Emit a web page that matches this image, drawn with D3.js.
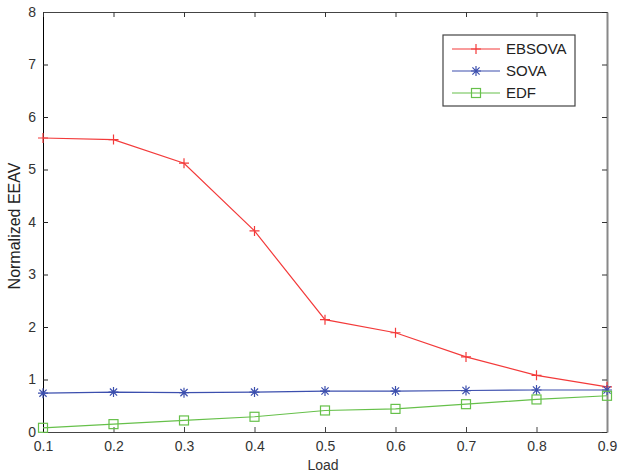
<!DOCTYPE html>
<html>
<head>
<meta charset="utf-8">
<script src="https://cdn.jsdelivr.net/npm/d3@7"></script>
<style>
  body { margin: 0; background: #fff; }
  text { font-family: "Liberation Sans", Arial, sans-serif; }
</style>
</head>
<body>
<svg id="chart" width="619" height="475"></svg>
<script>
// data
var loads = [0.1, 0.2, 0.3, 0.4, 0.5, 0.6, 0.7, 0.8, 0.9];
var ebsova = [5.60, 5.57, 5.12, 3.83, 2.14, 1.89, 1.43, 1.08, 0.86];
var sova = [0.74, 0.76, 0.75, 0.76, 0.78, 0.78, 0.79, 0.80, 0.80];
var edf = [0.08, 0.15, 0.22, 0.29, 0.41, 0.44, 0.53, 0.62, 0.69];
var xTicks = [0.1, 0.2, 0.3, 0.4, 0.5, 0.6, 0.7, 0.8, 0.9];
var yTicks = [0, 1, 2, 3, 4, 5, 6, 7, 8];

var series = [
    {name: "EBSOVA", values: ebsova, color: "#f33a3a", marker: "plus"},
    {name: "SOVA", values: sova, color: "#3c4fae", marker: "star"},
    {name: "EDF", values: edf, color: "#66c04a", marker: "square"}
];

var svg = d3.select("#chart");
var plotLeft = 43, plotRight = 607, plotTop = 12, plotBottom = 432;

var x = d3.scaleLinear().domain([0.1, 0.9]).range([plotLeft, plotRight]);
var y = d3.scaleLinear().domain([0, 8]).range([plotBottom, plotTop]);

//axes with inward ticks
var tickLen = 5;
svg.append("g")
    .attr("transform", "translate(0," + plotBottom + ")")
    .call(d3.axisBottom(x).tickValues(xTicks).tickSizeInner(-tickLen).tickSizeOuter(0).tickPadding(11).tickFormat(d3.format(".1f")))
    .call(function(g) {
        g.select(".domain").attr("stroke", "#444");
        g.selectAll("line").attr("stroke", "#444");
        g.selectAll("text").attr("font-size", "14px").attr("fill", "#333").attr("dy", "0.6em");
    });

svg.append("g")
    .attr("transform", "translate(" + plotLeft + ",0)")
    .call(d3.axisLeft(y).tickValues(yTicks).tickSizeInner(-tickLen).tickSizeOuter(0).tickPadding(7))
    .call(function(g) {
        g.select(".domain").attr("stroke", "#000");
        g.selectAll("line").attr("stroke", "#222");
        g.selectAll("text").attr("font-size", "14px").attr("fill", "#333");
    });

svg.append("g")
    .attr("transform", "translate(0," + plotTop + ")")
    .call(d3.axisTop(x).tickValues(xTicks).tickSizeInner(-tickLen).tickSizeOuter(0).tickFormat(""))
    .call(function(g) {
        g.select(".domain").attr("stroke", "#444");
        g.selectAll("line").attr("stroke", "#333");
    });

svg.append("g")
    .attr("transform", "translate(" + plotRight + ",0)")
    .call(d3.axisRight(y).tickValues(yTicks).tickSizeInner(-tickLen).tickSizeOuter(0).tickFormat(""))
    .call(function(g) {
        g.select(".domain").attr("stroke", "#888").attr("stroke-width", 2);
        g.selectAll("line").attr("stroke", "#333");
    });

//axis titles
svg.append("text")
    .attr("x", (plotLeft + plotRight) / 2 - 2)
    .attr("y", 470)
    .attr("text-anchor", "middle")
    .attr("font-size", "14px")
    .attr("fill", "#333")
    .text("Load");

svg.append("text")
    .attr("transform", "translate(20,226) rotate(-90)")
    .attr("text-anchor", "middle")
    .attr("font-size", "16px")
    .attr("fill", "#222")
    .text("Normalized EEAV");

function drawMarker(g, type, color) {
    if (type == "plus") {
        g.append("path").attr("d", "M-5,0H5M0,-5V5").attr("stroke", color).attr("stroke-width", 1.2);
    } else if (type == "star") {
        g.append("path").attr("d", "M-5,0H5M0,-5V5M-3.6,-3.6L3.6,3.6M-3.6,3.6L3.6,-3.6").attr("stroke", color).attr("stroke-width", 1.2);
    } else {
        g.append("rect").attr("x", -4.5).attr("y", -4.5).attr("width", 9).attr("height", 9)
            .attr("fill", "none").attr("stroke", color).attr("stroke-width", 1.2);
    }
}

//lines and markers
var line = d3.line()
    .x(function(d, i) { return x(loads[i]); })
    .y(function(d) { return y(d); });

series.forEach(function(s) {
    svg.append("path")
        .datum(s.values)
        .attr("d", line)
        .attr("fill", "none")
        .attr("stroke", s.color)
        .attr("stroke-width", 1.2);

    svg.append("g").selectAll("g")
        .data(s.values)
        .enter().append("g")
        .attr("transform", function(d, i) { return "translate(" + x(loads[i]) + "," + y(d) + ")"; })
        .each(function() { drawMarker(d3.select(this), s.marker, s.color); });
});

//legend
var legend = svg.append("g").attr("transform", "translate(443,35)");
legend.append("rect")
    .attr("width", 132).attr("height", 71)
    .attr("fill", "#fff").attr("stroke", "#444").attr("stroke-width", 1.2);

series.forEach(function(s, i) {
    var ly = 14 + i * 22;
    legend.append("line")
        .attr("x1", 9).attr("x2", 57).attr("y1", ly).attr("y2", ly)
        .attr("stroke", s.color).attr("stroke-width", 1.2);
    drawMarker(legend.append("g").attr("transform", "translate(33," + ly + ")"), s.marker, s.color);
    legend.append("text")
        .attr("x", 63).attr("y", ly + 5)
        .attr("font-size", "15px")
        .attr("fill", "#222")
        .text(s.name);
});
</script>
</body>
</html>
